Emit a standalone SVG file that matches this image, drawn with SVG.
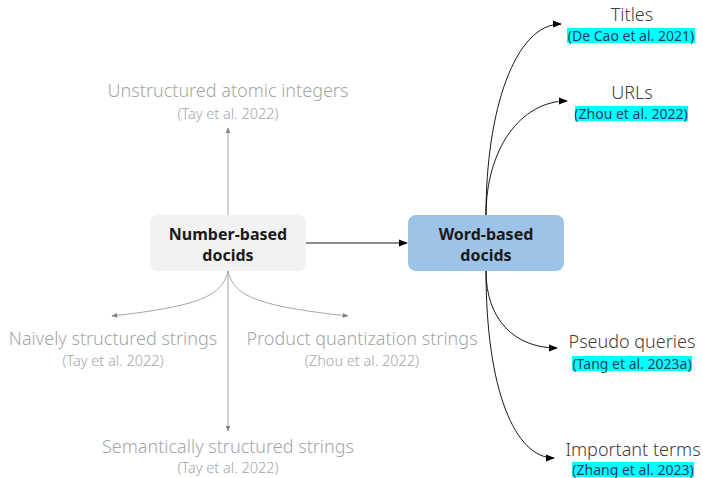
<svg xmlns="http://www.w3.org/2000/svg" width="703" height="478" viewBox="0 0 703 478">
<style>
text{font-family:"Noto Sans","Liberation Sans",sans-serif;text-anchor:middle}
.g{fill:#a6a6a6;font-weight:300}
.big{font-size:18px}
.sm{font-size:14.5px}
.blk{fill:#404040;font-weight:300}
.cite{fill:#1f3f5f;font-size:14px}
.hl{fill:#00ffff}
.box{font-size:16px;font-weight:bold;fill:#1a1a1a}
.gl{fill:none;stroke:#a6a6a6;stroke-width:1}
.bl{fill:none;stroke:#000;stroke-width:0.9}
</style>
<defs>
<marker id="ag" viewBox="0 0 10 10" refX="9" refY="5" markerWidth="6" markerHeight="6" orient="auto" markerUnits="userSpaceOnUse"><path d="M0,1 L10,5 L0,9 z" fill="#808080"/></marker>
<marker id="ab" viewBox="0 0 10 10" refX="9" refY="5" markerWidth="9" markerHeight="9" orient="auto" markerUnits="userSpaceOnUse"><path d="M0,1 L10,5 L0,9 z" fill="#000"/></marker>
</defs>
<g id="connectors">
<path class="gl" d="M228,215 L228,128" marker-end="url(#ag)"/>
<path class="gl" d="M228,271 L228,431" marker-end="url(#ag)"/>
<path class="gl" d="M228,271 C222,296 200,306 112,316" marker-end="url(#ag)"/>
<path class="gl" d="M228,271 C234,296 256,306 348,316" marker-end="url(#ag)"/>
<path class="bl" d="M306,243 L407,243" marker-end="url(#ab)"/>
<path class="bl" d="M486,215 C486,110 515,24 561,24" marker-end="url(#ab)"/>
<path class="bl" d="M486,215 C486,150 520,101 567,101" marker-end="url(#ab)"/>
<path class="bl" d="M486,271 C486,320 515,348 557,348" marker-end="url(#ab)"/>
<path class="bl" d="M486,271 C486,390 515,458 554,458" marker-end="url(#ab)"/>
</g>
<g id="number-based">
<rect x="150" y="215" width="156" height="56" rx="8" fill="#f2f2f2"/>
<text class="box" x="228" y="240">Number-based</text>
<text class="box" x="228" y="261">docids</text>
</g>
<g id="word-based">
<rect x="408" y="215" width="156" height="56" rx="8" fill="#9dc3e6"/>
<text class="box" x="486" y="240">Word-based</text>
<text class="box" x="486" y="261">docids</text>
</g>
<g id="unstructured">
<text class="g big" x="228" y="97">Unstructured atomic integers</text>
<text class="g sm" x="228" y="119">(Tay et al. 2022)</text>
</g>
<g id="naively">
<text class="g big" x="113" y="345">Naively structured strings</text>
<text class="g sm" x="113" y="366">(Tay et al. 2022)</text>
</g>
<g id="product">
<text class="g big" x="362" y="345">Product quantization strings</text>
<text class="g sm" x="362" y="366">(Zhou et al. 2022)</text>
</g>
<g id="semantically">
<text class="g big" x="228" y="453">Semantically structured strings</text>
<text class="g sm" x="228" y="473">(Tay et al. 2022)</text>
</g>
<g id="titles">
<text class="blk big" x="632" y="21">Titles</text>
<rect class="hl" x="567" y="28" width="128" height="15"/>
<text class="cite" x="631" y="40.5">(De Cao et al. 2021)</text>
</g>
<g id="urls">
<text class="blk big" x="632" y="99">URLs</text>
<rect class="hl" x="575" y="106" width="113" height="15"/>
<text class="cite" x="631" y="118.5">(Zhou et al. 2022)</text>
</g>
<g id="pseudo">
<text class="blk big" x="632" y="348">Pseudo queries</text>
<rect class="hl" x="572" y="356" width="120" height="15"/>
<text class="cite" x="632" y="368.5">(Tang et al. 2023a)</text>
</g>
<g id="important">
<text class="blk big" x="633" y="456">Important terms</text>
<rect class="hl" x="572" y="462" width="122" height="15"/>
<text class="cite" x="633" y="474.5">(Zhang et al. 2023)</text>
</g>
</svg>
